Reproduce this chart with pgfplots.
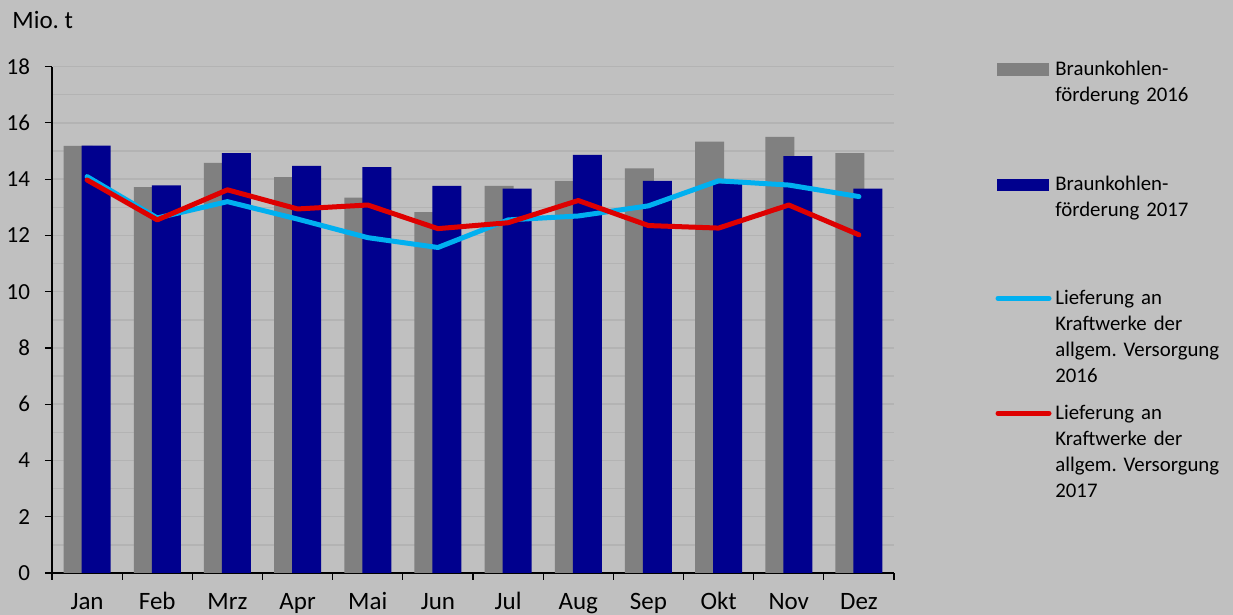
\documentclass[border=0pt]{standalone}
\usepackage{fontspec}
\setmainfont{Carlito}
\usepackage{pgfplots}
\pgfplotsset{compat=1.18}

\definecolor{bgc}{HTML}{C0C0C0}
\definecolor{gridc}{HTML}{B3B3B3}
\definecolor{gbar}{HTML}{808080}
\definecolor{nbar}{HTML}{00008E}
\definecolor{cyanl}{HTML}{00B0F0}
\definecolor{redl}{HTML}{DE0000}

\begin{document}
\frenchspacing
\begin{tikzpicture}
\fill[bgc] (0pt,0pt) rectangle (616.5pt,307.5pt);
\useasboundingbox (0pt,0pt) rectangle (616.5pt,307.5pt);

\begin{axis}[
  at={(26pt,21pt)}, anchor=south west,
  scale only axis, width=421pt, height=253.2pt,
  xmin=-0.5, xmax=11.5, ymin=0, ymax=18,
  axis x line*=bottom, axis y line*=left,
  axis line style={black, line width=0.6pt, -},
  tick style={black, line width=0.6pt},
  tick align=outside, major tick length=3.5pt, minor tick length=0pt,
  xtick={-0.5,0.5,...,11.5}, xticklabels={},
  extra x ticks={0,1,...,11},
  extra x tick labels={Jan,Feb,Mrz,Apr,Mai,Jun,Jul,Aug,Sep,Okt,Nov,Dez},
  extra x tick style={major tick length=0pt, grid=none},
  ytick={0,2,...,18}, minor y tick num=1,
  ymajorgrids, yminorgrids,
  major grid style={gridc, line width=0.75pt},
  minor grid style={gridc, line width=0.75pt},
  /pgf/number format/assume math mode=true,
  yticklabel style={xshift=-4pt, font=\fontsize{11.5}{13}\selectfont},
  xticklabel style={anchor=base, yshift=-18.5pt, font=\fontsize{12.5}{14}\selectfont},
  clip=false,
]
% Braunkohlenfoerderung 2016
\addplot[ybar, bar width=14.5pt, bar shift=-4.5pt, fill=gbar, draw=none] coordinates {
  (0,15.18) (1,13.72) (2,14.58) (3,14.07) (4,13.34) (5,12.83)
  (6,13.76) (7,13.94) (8,14.38) (9,15.33) (10,15.50) (11,14.92)};
% Braunkohlenfoerderung 2017
\addplot[ybar, bar width=14.5pt, bar shift=4.5pt, fill=nbar, draw=none] coordinates {
  (0,15.19) (1,13.78) (2,14.92) (3,14.47) (4,14.43) (5,13.76)
  (6,13.66) (7,14.86) (8,13.94) (9,13.85) (10,14.82) (11,13.66)};
% Lieferung 2016
\addplot[cyanl, line width=2.5pt, line join=round, line cap=round, mark=none] coordinates {
  (0,14.09) (1,12.62) (2,13.20) (3,12.58) (4,11.92) (5,11.57)
  (6,12.55) (7,12.69) (8,13.05) (9,13.94) (10,13.79) (11,13.38)};
% Lieferung 2017
\addplot[redl, line width=2.5pt, line join=round, line cap=round, mark=none] coordinates {
  (0,13.97) (1,12.55) (2,13.62) (3,12.94) (4,13.08) (5,12.24)
  (6,12.45) (7,13.24) (8,12.35) (9,12.26) (10,13.08) (11,12.02)};
\end{axis}

\node[anchor=base west, inner sep=0pt, font=\fontsize{12.5}{14}\selectfont] at (6pt,293pt) {Mio. t};

% legend
\fill[gbar] (498.5pt,269.5pt) rectangle (524.5pt,276pt);
\fill[nbar] (498.5pt,212.2pt) rectangle (524.5pt,217.8pt);
\draw[cyanl, line width=2.5pt, line cap=round] (499pt,158.3pt) -- (524.5pt,158.3pt);
\draw[redl, line width=2.5pt, line cap=round] (499pt,100.8pt) -- (524.5pt,100.8pt);
\begin{scope}[every node/.style={anchor=base west, inner sep=0pt, text width=90pt, align=left,
    font=\fontsize{10.4}{13}\selectfont}]
\node at (527.5pt,269.5pt) {Braunkohlen-\\förderung 2016};
\node at (527.5pt,212.2pt) {Braunkohlen-\\förderung 2017};
\node at (527.5pt,155.2pt) {Lieferung an\\Kraftwerke der\\allgem. Versorgung\\2016};
\node at (527.5pt,97.7pt) {Lieferung an\\Kraftwerke der\\allgem. Versorgung\\2017};
\end{scope}
\end{tikzpicture}
\end{document}
